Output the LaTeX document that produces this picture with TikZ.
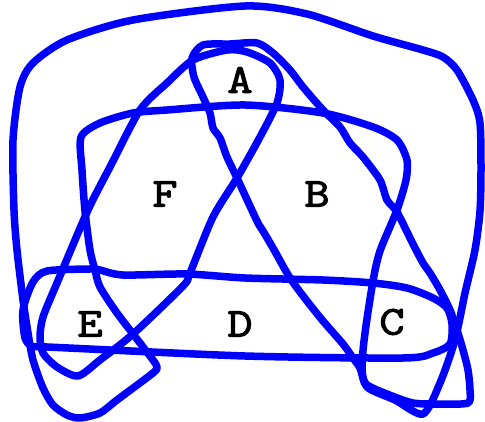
\documentclass[tikz,border=0pt]{standalone}
\usepackage{fontspec}
\newfontfamily\lblfont[FakeBold=2.5, FakeStretch=1.2]{Latin Modern Mono}
\begin{document}
\begin{tikzpicture}[x=1pt,y=-1pt,
  curve/.style={draw=blue, line width=7.5pt, line join=round, line cap=round},
  lbl/.style={font=\fontsize{41}{41}\selectfont\lblfont, inner sep=0pt}]
\useasboundingbox (0,0) rectangle (485,422);
% outer curve joined with middle box
\draw[curve] plot[smooth cycle, tension=0.45] coordinates {
 (245,6) (307,14) (373,36) (423,50) (443,57) (457,70) (473,100) (480,123)
 (481,170) (480,211) (475,250) (465,293) (455,340) (440,383) (423,414)
 (395,400) (367,387) (362,367) (365,333) (373,281) (380,251) (397,210)
 (406,180) (407,160) (397,140) (373,127) (323,113) (245,105) (167,110)
 (133,113) (100,123) (81,137) (82,170) (85,211) (90,250) (95,270) (100,287)
 (117,313) (140,343) (153,360) (157,367) (153,373) (117,400) (100,413)
 (80,418) (67,415) (53,405) (43,388) (33,360) (28,333) (23,300) (17,250)
 (14,210) (13,140) (20,87) (33,63) (67,40) (133,20)};
% bottom pill
\draw[curve] plot[smooth cycle, tension=0.45] coordinates {
 (47,271) (90,269) (100,270) (123,275) (187,274) (245,278) (323,280)
 (373,283) (407,288) (433,298) (447,308) (452,324) (450,344) (433,353)
 (403,358) (245,356) (47,347) (33,347) (25,338) (23,310) (33,282)};
% left triangle
\draw[curve] plot[smooth cycle, tension=0.45] coordinates {
 (227,50) (247,52) (270,63) (280,80) (277,103) (260,137) (237,178)
 (213,217) (190,273) (183,286) (133,334) (100,360) (78,376) (57,367)
 (43,353) (40,337) (43,317) (57,283) (88,210) (110,167) (140,110)
 (167,83) (193,60)};
% right triangle
\draw[curve] plot[smooth cycle, tension=0.45] coordinates {
 (203,45) (230,44) (257,43) (273,53) (290,70) (303,87) (323,110) (340,127)
 (350,143) (363,157) (380,180) (387,200) (397,212) (413,244) (423,263)
 (430,273) (440,290) (450,310) (457,330) (463,350) (468,370) (470,390)
 (468,403) (440,404) (413,403) (387,394) (366,384) (360,368) (353,358)
 (343,344) (323,321) (307,301) (290,278) (273,248) (263,231) (257,221)
 (237,178) (227,157) (220,138) (213,128) (210,113) (203,97) (194,77)
 (192,58)};
\node[lbl] (A) at (240,80) {A};
\node[lbl] (F) at (165,194) {F};
\node[lbl] (B) at (317,194) {B};
\node[lbl] (E) at (90,324) {E};
\node[lbl] (D) at (240,324) {D};
\node[lbl] (C) at (392,322) {C};
\end{tikzpicture}
\end{document}
